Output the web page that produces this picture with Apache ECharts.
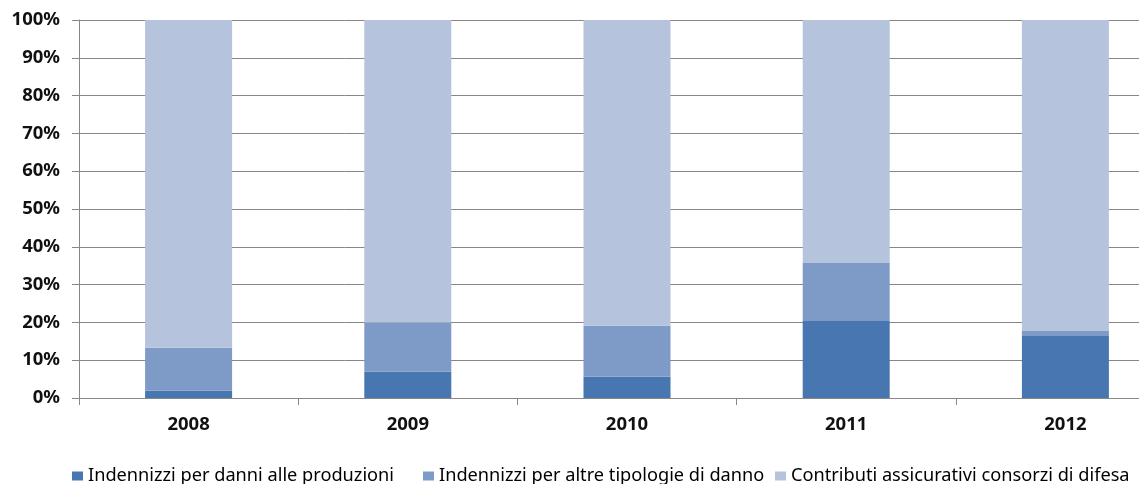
<!DOCTYPE html>
<html>
<head>
<meta charset="utf-8">
<script src="https://cdn.jsdelivr.net/npm/echarts@6/dist/echarts.min.js"></script>
<style>
html,body{margin:0;padding:0;background:#fff;}
#chart{width:1139px;height:484px;}
</style>
</head>
<body>
<div id="chart"></div>
<script>
const categories = ['2008', '2009', '2010', '2011', '2012'];
const seriesNames = ['Indennizzi per danni alle produzioni', 'Indennizzi per altre tipologie di danno', 'Contributi assicurativi consorzi di difesa'];
const danniProduzioni = [1.9, 7.0, 5.6, 20.4, 16.4];
const altreTipologie = [11.4, 13.0, 13.5, 15.3, 1.3];
const contributiConsorzi = [86.7, 80.0, 80.9, 64.3, 82.3];
const colors = ['#4876B0', '#7E9BC8', '#B5C3DD'];

const chart = echarts.init(document.getElementById('chart'), null, {renderer: 'canvas'});
const axisColor = '#878787';
const legendLefts = [72, 423, 775];
const allData = [danniProduzioni, altreTipologie, contributiConsorzi];

chart.setOption({
  animation: false,
  backgroundColor: '#ffffff',
  grid: {left: 79, top: 20, width: 1096, height: 378, containLabel: false, outerBoundsMode: 'none'},
  legend: seriesNames.map((n, i) => ({
    data: [n],
    left: legendLefts[i],
    top: 467,
    padding: 0,
    itemWidth: 11,
    itemHeight: 9,
    icon: 'rect',
    textStyle: {fontFamily: 'Noto Sans', fontSize: 18.2, color: '#000'}
  })),
  xAxis: {
    type: 'category',
    data: categories,
    axisLine: {lineStyle: {color: axisColor, width: 1}},
    axisTick: {show: true, length: 7, lineStyle: {color: axisColor}},
    axisLabel: {margin: 17, fontFamily: 'Noto Sans', fontWeight: 'bold', fontSize: 18.5, color: '#111'},
    splitLine: {show: false}
  },
  yAxis: {
    type: 'value',
    min: 0, max: 100, interval: 10,
    axisLine: {show: true, lineStyle: {color: axisColor, width: 1}},
    axisTick: {show: true, length: 7, lineStyle: {color: axisColor}},
    axisLabel: {formatter: '{value}%', margin: 19, fontFamily: 'Noto Sans', fontWeight: 'bold', fontSize: 18.5, color: '#111'},
    splitLine: {show: true, lineStyle: {color: axisColor, width: 1}}
  },
  series: seriesNames.map((n, i) => ({
    name: n,
    type: 'bar',
    stack: 'total',
    barWidth: 87,
    data: allData[i],
    itemStyle: {color: colors[i]}
  }))
});
</script>
</body>
</html>
